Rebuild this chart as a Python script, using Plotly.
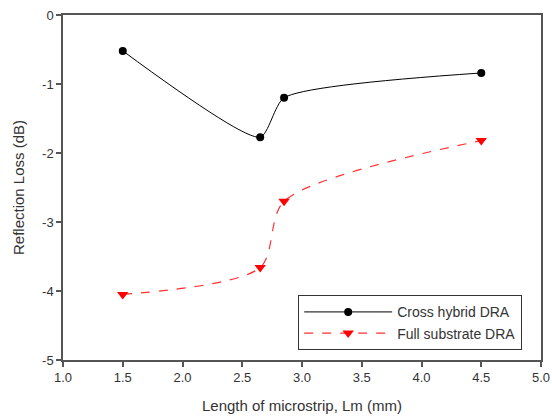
import plotly.graph_objects as go

x_cross = [1.5, 2.65, 2.85, 4.5]
y_cross = [-0.52, -1.77, -1.20, -0.84]
x_full = [1.5, 2.65, 2.85, 4.5]
y_full = [-4.05, -3.66, -2.70, -1.82]

x_ticks = [1.0, 1.5, 2.0, 2.5, 3.0, 3.5, 4.0, 4.5, 5.0]
y_ticks = [0, -1, -2, -3, -4, -5]

fig = go.Figure()
fig.add_trace(go.Scatter(
    x=x_cross, y=y_cross, mode="lines+markers", name="Cross hybrid DRA",
    line=dict(color="black", width=1, shape="spline", smoothing=0.6),
    marker=dict(symbol="circle", size=8, color="black")))
fig.add_trace(go.Scatter(
    x=x_full, y=y_full, mode="lines+markers", name="Full substrate DRA",
    line=dict(color="#ff3030", width=1.2, shape="spline", smoothing=0.8, dash="dash"),
    marker=dict(symbol="triangle-down", size=10, color="#ff0000")))

fam = "Liberation Sans, Arial"
fig.update_layout(
    width=552, height=417,
    margin=dict(l=63, r=11, t=15, b=57),
    plot_bgcolor="white", paper_bgcolor="white",
    font=dict(family=fam, size=13, color="#333"),
    showlegend=True,
    legend=dict(x=0.492, y=0.1875, xanchor="left", yanchor="top",
                bordercolor="#333", borderwidth=1, bgcolor="white",
                itemwidth=88,
                font=dict(family=fam, size=14, color="#333"),
                tracegroupgap=0),
    xaxis=dict(range=[1.0, 5.0], tickvals=x_ticks,
               ticktext=[f"{v:.1f}" for v in x_ticks], automargin=False,
               showgrid=False, zeroline=False, showline=True, linecolor="#555",
               linewidth=1.5, mirror=True, ticks="outside", ticklen=5,
               tickcolor="#555", tickwidth=1.5, tickfont=dict(size=13),
               title=dict(text="Length of microstrip, Lm (mm)",
                          font=dict(size=15, color="#333"), standoff=16)),
    yaxis=dict(range=[-5, 0], tickvals=y_ticks,
               ticktext=[str(v) for v in y_ticks], automargin=False,
               showgrid=False, zeroline=False, showline=True, linecolor="#555",
               linewidth=1.5, mirror=True, ticks="outside", ticklen=5,
               tickcolor="#555", tickwidth=1.5, tickfont=dict(size=13),
               title=dict(text="Reflection Loss (dB)",
                          font=dict(size=15, color="#333"), standoff=14)),
)
fig.write_html("out.html")
